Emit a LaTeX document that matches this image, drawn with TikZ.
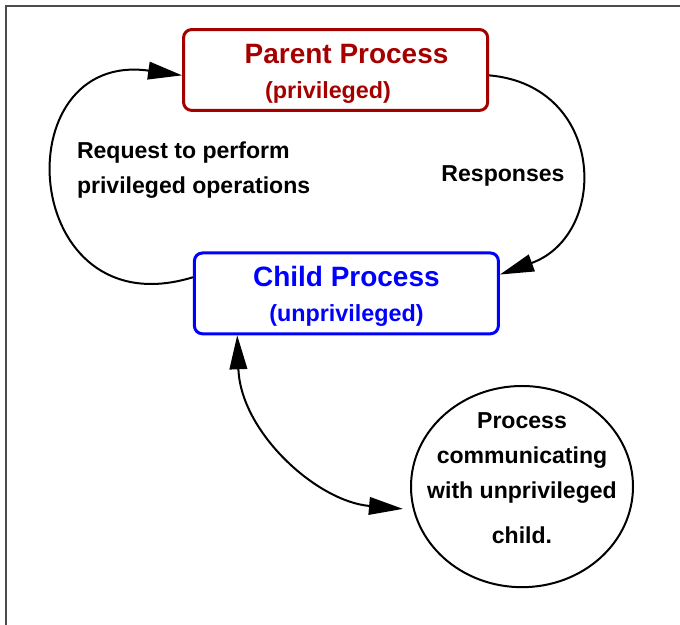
\documentclass[tikz,border=0pt]{standalone}
\usepackage{fontspec}
\setmainfont{Liberation Sans}
\usetikzlibrary{arrows.meta, shapes}
\definecolor{parentred}{RGB}{165,0,0}
\definecolor{childblue}{RGB}{0,0,255}

\begin{document}
\begin{tikzpicture}[>={Triangle[length=0.85cm, width=0.44cm]}, line width=0.05cm]
    \tikzstyle{proc} = [draw, rectangle, rounded corners=0.2cm, line width=0.075cm, minimum width=7.6cm, minimum height=2.02cm, align=center, font=\bfseries\fontsize{19.9}{24.9}\selectfont]
    \tikzstyle{lbl} = [inner sep=0, align=left, font=\bfseries\fontsize{16.4}{24.9}\selectfont]
    \useasboundingbox (0, 0) rectangle (17, 15.625);
    \draw [line width=0.03cm, black!70] (17, 15.475) -- (0.15, 15.475) -- (0.15, 0);
    \node (parent) [proc, draw=parentred, text=parentred] at (8.39, 13.875) {\rule{0pt}{19.5pt}\hspace{0.55cm}Parent Process\\ {\fontsize{16.6}{20}\selectfont (privileged)}\hspace*{0.375cm}};
    \node (child) [proc, draw=childblue, text=childblue] at (8.66, 8.29) {\rule{0pt}{18pt}Child Process\\ {\fontsize{16.6}{20}\selectfont (unprivileged)}};
    \node (peer) [draw, ellipse, minimum width=5.55cm, minimum height=5.03cm] at (13.05, 3.46) {};
    \node (peertext) [inner sep=0, align=center, font=\bfseries\fontsize{16.4}{24.9}\selectfont] at (13.05, 3.66) {Process\\communicating\\with unprivileged\\[7pt]child.};
    \node (reqlabel) [lbl, anchor=west] at (1.9, 11.375) {Request to perform\\privileged operations};
    \node (resplabel) [lbl] at (12.575, 11.225) {Responses};
    \draw [->] (child.174) to [out=197, in=172, looseness=2.3] (parent.182);
    \draw [->] (parent.-2) to [out=-5, in=20, looseness=1.5] (child.7);
    \draw [<->, shorten >=0.25cm] (child.201.5) to [out=-88, in=175] (peer.192);
\end{tikzpicture}
\end{document}
